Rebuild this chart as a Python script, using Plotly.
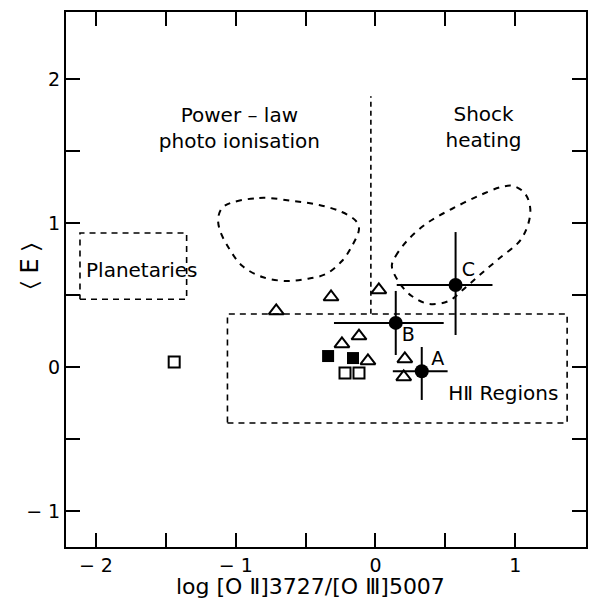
import plotly.graph_objects as go

# ---------------- data ----------------
open_sq_x = [-1.44, -0.218, -0.118]
open_sq_y = [0.035, -0.042, -0.042]

filled_sq_x = [-0.339, -0.161]
filled_sq_y = [0.076, 0.062]

tri_x = [-0.710, -0.318, 0.024, -0.240, -0.118, -0.054, 0.210, 0.202]
tri_y = [0.389, 0.486, 0.535, 0.160, 0.215, 0.042, 0.056, -0.069]

pt_names = ["A", "B", "C"]
pt_x = [0.331, 0.145, 0.573]
pt_y = [-0.030, 0.306, 0.569]
pt_xerr_minus = [0.207, 0.442, 0.421]
pt_xerr_plus = [0.185, 0.343, 0.264]
pt_yerr_minus = [0.199, 0.223, 0.347]
pt_yerr_plus = [0.169, 0.222, 0.368]
lbl_x = [0.445, 0.235, 0.665]
lbl_y = [0.05, 0.215, 0.665]

# regions
planet_box_x = [-2.114, -1.351]
planet_box_y = [0.47, 0.93]
hii_box_x = [-1.059, 1.371]
hii_box_y = [-0.389, 0.368]
divider_x = -0.033
divider_y = [0.37, 1.88]

left_loop_x = [-1.081, -0.831, -0.596, -0.403, -0.240, -0.140, -0.118, -0.168, -0.240,
               -0.354, -0.496, -0.639, -0.810, -0.952, -1.045, -1.116, -1.123, -1.081]
left_loop_y = [1.118, 1.174, 1.153, 1.125, 1.076, 1.014, 0.958, 0.840, 0.736,
               0.646, 0.611, 0.597, 0.625, 0.701, 0.819, 0.958, 1.049, 1.118]

right_loop_x = [0.117, 0.145, 0.238, 0.381, 0.545, 0.737, 0.901, 0.986, 1.072, 1.108,
                1.043, 0.880, 0.737, 0.616, 0.523, 0.381, 0.259, 0.167, 0.117]
right_loop_y = [0.701, 0.771, 0.889, 1.007, 1.097, 1.188, 1.250, 1.257, 1.201, 1.076,
                0.889, 0.750, 0.632, 0.528, 0.458, 0.438, 0.493, 0.590, 0.701]

region_text = ["Power \u2013 law<br>photo ionisation", "Shock<br>heating", "Planetaries", "H\u2161 Regions"]
region_tx = [-0.974, 0.773, -1.672, 0.915]
region_ty = [1.645, 1.65, 0.66, -0.194]

x_ticks = [-2, -1.5, -1, -0.5, 0, 0.5, 1]
x_ticktext = ["\u2212 2", "", "\u2212 1", "", "0", "", "1"]
y_ticks = [-1, -0.5, 0, 0.5, 1, 1.5, 2]
y_ticktext = ["\u2212 1", "", "0", "", "1", "", "2"]

x_title = "log [O \u2161]3727/[O \u2162]5007"
y_title = "\u2329 E \u232A"

FONT = "DejaVu Sans"
BLACK = "black"

fig = go.Figure()

def box(xs, ys):
    return ([xs[0], xs[1], xs[1], xs[0], xs[0]], [ys[0], ys[0], ys[1], ys[1], ys[0]])

for xs, ys in (planet_box_x, planet_box_y), (hii_box_x, hii_box_y):
    bx, by = box(xs, ys)
    fig.add_trace(go.Scatter(x=bx, y=by, mode="lines",
                             line=dict(color=BLACK, width=1.6, dash="6px,5px"),
                             hoverinfo="skip"))

fig.add_trace(go.Scatter(x=[divider_x, divider_x], y=divider_y, mode="lines",
                         line=dict(color=BLACK, width=1.6, dash="5px,4px")))

for lx, ly in (left_loop_x, left_loop_y), (right_loop_x, right_loop_y):
    fig.add_trace(go.Scatter(x=lx, y=ly, mode="lines",
                             line=dict(color=BLACK, width=2, dash="6px,6px",
                                       shape="spline", smoothing=1.0)))

fig.add_trace(go.Scatter(x=open_sq_x, y=open_sq_y, mode="markers",
                         marker=dict(symbol="square-open", size=11, color=BLACK,
                                     line=dict(width=2, color=BLACK))))
fig.add_trace(go.Scatter(x=filled_sq_x, y=filled_sq_y, mode="markers",
                         marker=dict(symbol="square", size=12, color=BLACK)))
fig.add_trace(go.Scatter(x=tri_x, y=tri_y, mode="markers",
                         marker=dict(symbol="triangle-up-open", size=13, color=BLACK,
                                     line=dict(width=2, color=BLACK))))

fig.add_trace(go.Scatter(
    x=pt_x, y=pt_y, mode="markers",
    marker=dict(symbol="circle", size=14, color=BLACK),
    error_x=dict(type="data", symmetric=False, array=pt_xerr_plus,
                 arrayminus=pt_xerr_minus, width=0, thickness=2, color=BLACK),
    error_y=dict(type="data", symmetric=False, array=pt_yerr_plus,
                 arrayminus=pt_yerr_minus, width=0, thickness=2, color=BLACK)))

fig.add_trace(go.Scatter(x=lbl_x, y=lbl_y, mode="text", text=pt_names,
                         textfont=dict(family=FONT, size=19, color=BLACK)))

fig.add_trace(go.Scatter(x=region_tx, y=region_ty, mode="text", text=region_text,
                         textfont=dict(family=FONT, size=20, color=BLACK)))

axis_common = dict(
    showline=True, linecolor=BLACK, linewidth=2, mirror="ticks",
    ticks="inside", ticklen=14, tickwidth=2, tickcolor=BLACK,
    showgrid=False, zeroline=False,
    tickfont=dict(family=FONT, size=19, color=BLACK),
)

fig.update_layout(
    width=591, height=604, autosize=False,
    margin=dict(l=66, r=3, t=12, b=57),
    paper_bgcolor="white", plot_bgcolor="white",
    showlegend=False,
    xaxis=dict(range=[-2.214, 1.506], tickmode="array", tickvals=x_ticks,
               ticktext=x_ticktext, **axis_common),
    yaxis=dict(range=[-1.25, 2.465], tickmode="array", tickvals=y_ticks,
               ticktext=y_ticktext, **axis_common),
    annotations=[
        dict(text=x_title, xref="paper", yref="paper", x=0.47, y=0,
             xanchor="center", yanchor="middle", yshift=-39, showarrow=False,
             font=dict(family=FONT, size=22, color=BLACK)),
        dict(text=y_title, xref="paper", yref="y", x=0, y=0.7,
             xanchor="center", yanchor="middle", xshift=-36, textangle=-90,
             showarrow=False, font=dict(family=FONT, size=24, color=BLACK)),
    ],
)

fig.write_html("out.html")
